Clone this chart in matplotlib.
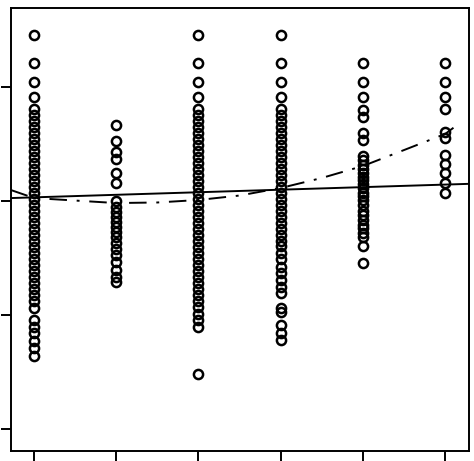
import numpy as np
import matplotlib as mpl
mpl.use('Agg')
import matplotlib.pyplot as plt

# group positions on the x axis
groups = [0, 1, 2, 3, 4, 5]

col_0 = [1.456, 1.211, 1.044, 0.912, 0.807, 0.754, 0.702, 0.649, 0.596, 0.544,
         0.491, 0.439, 0.386, 0.333, 0.281, 0.228, 0.175, 0.123, 0.070, 0.018,
         -0.035, -0.088, -0.140, -0.193, -0.246, -0.298, -0.351, -0.404, -0.456,
         -0.509, -0.561, -0.614, -0.667, -0.719, -0.772, -0.825, -0.877, -0.939,
         -1.044, -1.105, -1.158, -1.228, -1.289, -1.360]
col_1 = [0.667, 0.526, 0.430, 0.368, 0.246, 0.158, 0.0, -0.053, -0.096, -0.140,
         -0.184, -0.228, -0.272, -0.316, -0.368, -0.421, -0.474, -0.535, -0.605,
         -0.667, -0.711]
col_2 = [1.456, 1.211, 1.044, 0.912, 0.807, 0.754, 0.702, 0.649, 0.596, 0.544,
         0.491, 0.439, 0.386, 0.333, 0.281, 0.228, 0.175, 0.123, 0.070, 0.018,
         -0.035, -0.088, -0.140, -0.193, -0.246, -0.298, -0.351, -0.404, -0.456,
         -0.509, -0.561, -0.614, -0.667, -0.719, -0.772, -0.825, -0.877, -0.930,
         -0.991, -1.044, -1.105, -1.518]
col_3 = [1.456, 1.211, 1.044, 0.912, 0.807, 0.754, 0.702, 0.649, 0.596, 0.544,
         0.491, 0.439, 0.386, 0.333, 0.281, 0.228, 0.175, 0.123, 0.070, 0.018,
         -0.035, -0.088, -0.140, -0.193, -0.246, -0.298, -0.351, -0.395, -0.456,
         -0.509, -0.579, -0.632, -0.693, -0.754, -0.807, -0.939, -0.974, -1.088,
         -1.158, -1.219]
col_4 = [1.211, 1.044, 0.912, 0.798, 0.737, 0.596, 0.535, 0.395, 0.360, 0.316,
         0.281, 0.246, 0.211, 0.184, 0.149, 0.114, 0.070, 0.044, 0.009, -0.035,
         -0.088, -0.123, -0.167, -0.211, -0.237, -0.281, -0.316, -0.395, -0.544]
col_5 = [1.211, 1.044, 0.912, 0.807, 0.605, 0.553, 0.404, 0.325, 0.246, 0.158,
         0.070]
columns = [col_0, col_1, col_2, col_3, col_4, col_5]

# linear fit
fit_intercept = 0.032
fit_slope = 0.0224

# smooth curve
curve_x = [-0.28, 0, 0.5, 1, 1.5, 2, 2.5, 3, 3.5, 4, 4.5, 5, 5.13]
curve_y = [0.096, 0.026, 0.004, -0.018, -0.013, 0.009, 0.048, 0.114, 0.202,
           0.307, 0.447, 0.588, 0.658]

y_ticks = [-2, -1, 0, 1]

fig = plt.figure(figsize=(4.74, 4.61), dpi=100)
ax = fig.add_axes([11 / 474, 10 / 461, 458 / 474, 443 / 461])

for g, vals in zip(groups, columns):
    ax.plot(np.full(len(vals), g), vals, linestyle='none', marker='o',
            markersize=6.6, markerfacecolor='none', markeredgecolor='black',
            markeredgewidth=1.8)

ax.axline((0, fit_intercept), slope=fit_slope, color='black', lw=1.4)
ax.plot(curve_x, curve_y, color='black', lw=1.4, dashes=(9, 5, 1.5, 5))

ax.set_xlim(-0.28, 5.29)
ax.set_ylim(-2.193, 1.693)
ax.set_xticks(groups)
ax.set_yticks(y_ticks)
ax.set_xticklabels([])
ax.set_yticklabels([])
ax.tick_params(direction='out', length=7.5, width=1.4, color='black')
for s in ax.spines.values():
    s.set_linewidth(1.4)
    s.set_color('black')

fig.savefig('out.png', dpi=100)
